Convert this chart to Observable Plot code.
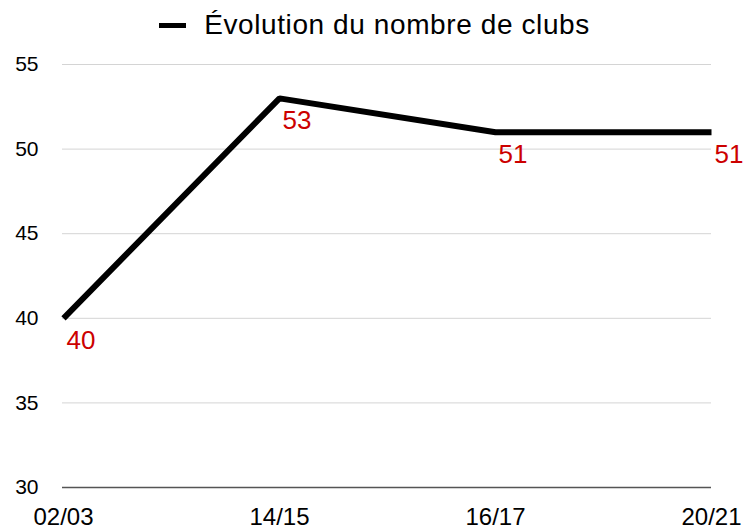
<!DOCTYPE html>
<html>
<head>
<meta charset="utf-8">
<script src="https://cdn.jsdelivr.net/npm/d3@7"></script>
<script src="https://cdn.jsdelivr.net/npm/@observablehq/plot@0.6"></script>
<style>
  html, body { margin: 0; padding: 0; background: #fff; }
  body { width: 749px; height: 531px; overflow: hidden; font-family: "Liberation Sans", Arial, Helvetica, sans-serif; }
  #legend { height: 48px; display: flex; justify-content: center; align-items: center; gap: 18px; font-size: 28px; letter-spacing: 0.6px; color: #000; padding-top: 2px; box-sizing: border-box; }
  #legend .sw { width: 27px; height: 5px; background: #000; }
  #chart svg { display: block; }
</style>
</head>
<body>
<div id="legend"><span class="sw"></span><span class="lbl">Évolution du nombre de clubs</span></div>
<div id="chart"></div>
<script>
const seriesName = "Évolution du nombre de clubs";
const seasons = ["02/03", "14/15", "16/17", "20/21"];
const clubs = [40, 53, 51, 51];
const yTicks = [30, 35, 40, 45, 50, 55];

const data = seasons.map((s, i) => ({season: s, value: clubs[i]}));

const plot = Plot.plot({
  width: 749,
  height: 483,
  marginTop: 16,
  marginBottom: 44,
  marginLeft: 62,
  marginRight: 38,
  style: {fontFamily: '"Liberation Sans", Arial, Helvetica, sans-serif', color: "#000", background: "#fff"},
  x: {type: "point", domain: seasons, padding: 0},
  y: {domain: [30, 55]},
  marks: [
    Plot.ruleY(yTicks.filter(d => d !== 30), {stroke: "#d4d4d4", strokeWidth: 1, strokeOpacity: 1}),
    Plot.ruleY([30], {stroke: "#555", strokeWidth: 1.5}),
    Plot.axisY({ticks: yTicks, tickSize: 0, tickPadding: 24, fontSize: 21, label: null}),
    Plot.axisX({tickSize: 0, tickPadding: 20, fontSize: 24, label: null}),
    Plot.line(data, {x: "season", y: "value", stroke: "#000", strokeWidth: 6, strokeLinejoin: "miter", strokeLinecap: "butt"}),
    Plot.text(data, {x: "season", y: "value", text: d => String(d.value), fill: "#cc0000", fontSize: 26, textAnchor: "start", lineAnchor: "top", dx: 3, dy: 12})
  ]
});
document.getElementById("chart").appendChild(plot);
</script>
</body>
</html>
